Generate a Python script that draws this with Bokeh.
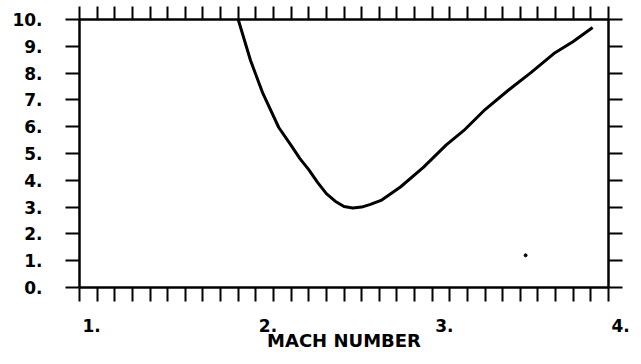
from bokeh.plotting import figure
from bokeh.models import LinearAxis, FixedTicker, Range1d
from bokeh.core.properties import value
from bokeh.embed import file_html
from bokeh.resources import INLINE

# ---- data ----
mach = [1.90, 1.97, 2.04, 2.13, 2.20, 2.25, 2.30, 2.35, 2.40, 2.45, 2.50, 2.55,
        2.60, 2.65, 2.71, 2.82, 2.95, 3.08, 3.18, 3.30, 3.43, 3.56, 3.69, 3.80, 3.91]
ratio = [10.0, 8.47, 7.24, 5.97, 5.30, 4.81, 4.40, 3.92, 3.50, 3.22, 3.02, 2.97,
         3.00, 3.10, 3.25, 3.75, 4.48, 5.32, 5.86, 6.64, 7.35, 8.02, 8.73, 9.18, 9.70]
speck_x = [3.53]
speck_y = [1.2]

x_label_ticks = [1, 2, 3, 4]
x_tick_labels = ["1.", "2.", "3.", "4."]
x_minor_ticks = [round(1 + 0.1 * i, 1) for i in range(31)]
y_ticks = list(range(0, 11))
y_tick_labels = [f"{v}." for v in y_ticks]
x_title = "MACH NUMBER"

FONT = "DejaVu Sans"

p = figure(width=641, height=364, frame_width=529, frame_height=268,
           x_range=Range1d(1, 4), y_range=Range1d(0, 10),
           output_backend="svg", toolbar_location=None,
           x_axis_location=None, y_axis_location=None,
           min_border_left=79, min_border_right=33,
           min_border_top=19, min_border_bottom=77)
p.outline_line_color = None
p.background_fill_color = "white"
p.border_fill_color = "white"
p.xgrid.visible = False
p.ygrid.visible = False


def ticks_only_axis(ticks, out, **kw):
    ax = LinearAxis(ticker=FixedTicker(ticks=[], minor_ticks=ticks), **kw)
    ax.axis_line_color = "black"
    ax.axis_line_width = 2.5
    ax.major_tick_out = out
    ax.major_tick_in = 0
    ax.major_tick_line_color = None
    ax.minor_tick_line_color = "black"
    ax.minor_tick_line_width = 2
    ax.minor_tick_out = out
    ax.minor_tick_in = 0
    ax.major_label_standoff = 0
    return ax


# bottom axis: ticks + title
xb = ticks_only_axis(x_minor_ticks, 14)
xb.axis_label = x_title
xb.axis_label_text_font = FONT
xb.axis_label_text_font_style = "bold"
xb.axis_label_text_font_size = "18px"
xb.axis_label_text_color = "black"
xb.axis_label_standoff = 28
p.add_layout(xb, "below")

# x tick labels, drawn just right of their ticks (as in the reference)
p.text(x=x_label_ticks, y=[-1.4] * len(x_label_ticks), text=x_tick_labels,
       x_offset=3, text_align="left", text_baseline="alphabetic",
       text_font=value(FONT), text_font_style="bold", text_font_size="17px",
       text_color="black", level="overlay")

# top axis: ticks only
xt = ticks_only_axis(x_minor_ticks, 13)
p.add_layout(xt, "above")

# left axis with labels
yl = LinearAxis(ticker=FixedTicker(ticks=y_ticks))
yl.axis_line_color = "black"
yl.axis_line_width = 2.5
yl.major_tick_line_color = "black"
yl.major_tick_line_width = 2
yl.minor_tick_line_color = None
yl.major_tick_in = 0
yl.major_tick_out = 14
yl.major_label_overrides = dict(zip(y_ticks, y_tick_labels))
yl.major_label_text_font = FONT
yl.major_label_text_font_style = "bold"
yl.major_label_text_font_size = "17px"
yl.major_label_text_color = "black"
yl.major_label_standoff = 23
p.add_layout(yl, "left")

# right axis: ticks only
yr = ticks_only_axis(y_ticks, 14)
p.add_layout(yr, "right")

p.line(mach, ratio, line_color="black", line_width=3)
p.scatter(speck_x, speck_y, size=3, color="black")

open("out.html", "w").write(file_html(p, INLINE))
